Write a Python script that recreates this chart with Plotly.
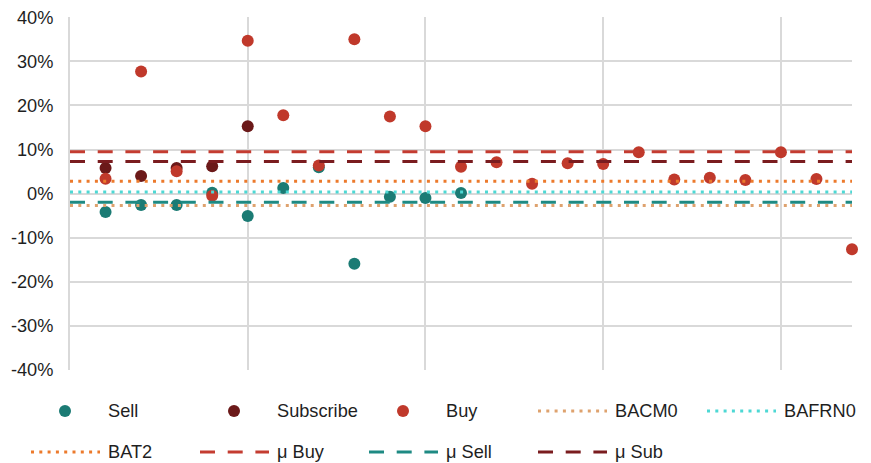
import plotly.graph_objects as go

# ---- data ----
positions = list(range(1, 23))

sell_x = [1, 2, 3, 4, 5, 6, 7, 8, 9, 10, 11]
sell_y = [-0.0415, -0.0255, -0.0255, 0.002, -0.0505, 0.013, 0.060, -0.159, -0.007, -0.010, 0.0015]

sub_x = [1, 2, 3, 4, 5]
sub_y = [0.058, 0.040, 0.058, 0.062, 0.153]

buy_x = positions
buy_y = [0.034, 0.277, 0.051, -0.005, 0.347, 0.178, 0.064, 0.350, 0.175, 0.153, 0.061,
         0.071, 0.0225, 0.069, 0.067, 0.094, 0.032, 0.036, 0.031, 0.094, 0.033, -0.126]

# reference levels
bacm0 = -0.027
bafrn0 = 0.0035
bat2 = 0.028
mu_buy = 0.095
mu_sell = -0.0197
mu_sub = 0.073

y_tickvals = [-0.4, -0.3, -0.2, -0.1, 0.0, 0.1, 0.2, 0.3, 0.4]
y_ticktext = ["-40%", "-30%", "-20%", "-10%", "0%", "10%", "20%", "30%", "40%"]

x_min, x_max = 0, 22

# ---- styling ----
W, H = 871, 463
FONT = "Liberation Sans, Arial, sans-serif"
FS = 18.2
TXT = "#1f1f1f"
GRID = "#d9d9d9"
DOT = "3px,5.3px"
DASH = "15px,12.7px"

C_SELL = "#1b7b74"
C_SUB = "#6b1919"
C_BUY = "#c0392b"
C_BACM0 = "#dea26e"
C_BAFRN0 = "#4dd8d4"
C_BAT2 = "#ec7a2c"
C_MU_BUY = "#c43c31"
C_MU_SELL = "#1e8a83"
C_MU_SUB = "#7a1c1f"

PLOT_L, PLOT_R, PLOT_T, PLOT_B = 70, 852, 17.3, 370

markers = [
    ("Sell", sell_x, sell_y, C_SELL),
    ("Subscribe", sub_x, sub_y, C_SUB),
    ("Buy", buy_x, buy_y, C_BUY),
]
levels = [
    ("BACM0", bacm0, C_BACM0, DOT),
    ("BAFRN0", bafrn0, C_BAFRN0, DOT),
    ("BAT2", bat2, C_BAT2, DOT),
    ("μ Buy", mu_buy, C_MU_BUY, DASH),
    ("μ Sell", mu_sell, C_MU_SELL, DASH),
    ("μ Sub", mu_sub, C_MU_SUB, DASH),
]

fig = go.Figure()

for name, xs, ys, col in markers:
    fig.add_trace(go.Scatter(
        x=xs, y=ys, mode="markers", name=name, showlegend=False,
        marker=dict(size=12, color=col, line=dict(width=0)),
        cliponaxis=False, xaxis="x", yaxis="y",
    ))

for name, val, col, dash in levels:
    fig.add_trace(go.Scatter(
        x=[x_min, x_max], y=[val, val], mode="lines", name=name, showlegend=False,
        line=dict(color=col, width=3, dash=dash), xaxis="x", yaxis="y",
    ))

# ---- legend drawn in a pixel-space overlay ----
col_x = [31, 200, 369, 538, 707]
row_y = [411, 452]
entries = [("m", n, c) for n, _, _, c in markers] + [("l", n, c, d) for n, _, c, d in levels]
annotations = []
for i, e in enumerate(entries):
    r, c = divmod(i, 5)
    x0 = col_x[c]
    y0 = row_y[r]
    if e[0] == "m":
        _, name, colr = e
        fig.add_trace(go.Scatter(
            x=[x0 + 34], y=[y0], mode="markers", showlegend=False, hoverinfo="skip",
            marker=dict(size=12, color=colr), xaxis="x2", yaxis="y2",
        ))
    else:
        _, name, colr, dash = e
        fig.add_trace(go.Scatter(
            x=[x0, x0 + 69], y=[y0, y0], mode="lines", showlegend=False, hoverinfo="skip",
            line=dict(color=colr, width=3, dash=dash), xaxis="x2", yaxis="y2",
        ))
    annotations.append(dict(
        x=x0 + 75, y=y0, xref="x2", yref="y2", text=name, showarrow=False,
        xanchor="left", yanchor="middle", font=dict(family=FONT, size=FS, color=TXT),
    ))

fig.update_layout(
    template="none",
    width=W, height=H,
    margin=dict(l=0, r=0, t=0, b=0, pad=0, autoexpand=False),
    paper_bgcolor="white", plot_bgcolor="rgba(0,0,0,0)",
    showlegend=False,
    font=dict(family=FONT, size=FS, color=TXT),
    xaxis=dict(
        domain=[PLOT_L / W, PLOT_R / W], range=[x_min, x_max],
        tick0=0, dtick=5, showticklabels=False, ticks="",
        showgrid=True, gridcolor=GRID, gridwidth=2,
        zeroline=False, showline=False, anchor="y", automargin=False,
    ),
    yaxis=dict(
        domain=[1 - PLOT_B / H, 1 - PLOT_T / H], range=[-0.4, 0.4],
        tickvals=y_tickvals, ticktext=y_ticktext, ticks="",
        ticklabelstandoff=11,
        showgrid=True, gridcolor=GRID, gridwidth=2,
        zeroline=False, showline=True, linecolor=GRID, linewidth=2,
        anchor="x", automargin=False,
        tickfont=dict(family=FONT, size=FS, color=TXT),
    ),
    xaxis2=dict(domain=[0, 1], range=[0, W], visible=False, anchor="y2",
                fixedrange=True, automargin=False),
    yaxis2=dict(domain=[0, 1], range=[H, 0], visible=False, anchor="x2",
                fixedrange=True, automargin=False),
    annotations=annotations,
)

fig.write_html("out.html")
